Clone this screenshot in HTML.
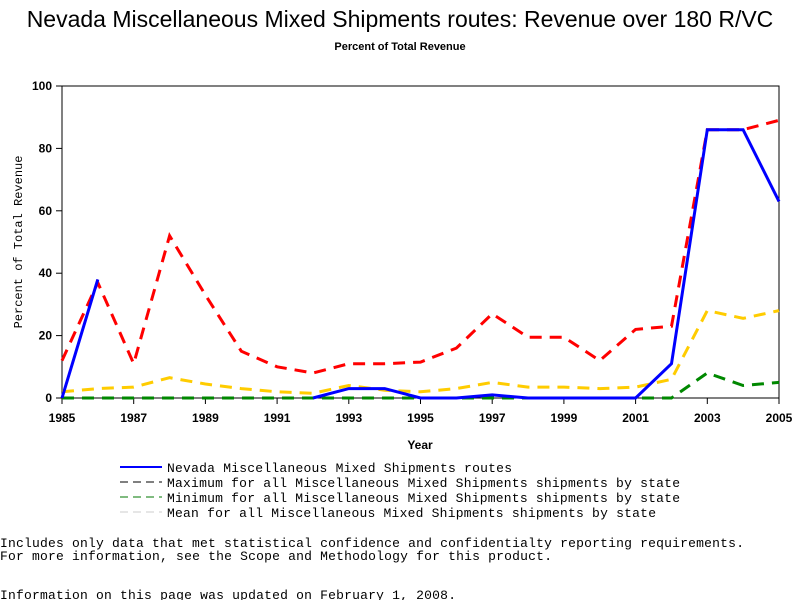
<!DOCTYPE html>
<html><head><meta charset="utf-8"><style>
body{margin:0;background:#fff;width:800px;height:600px;overflow:hidden;font-family:"Liberation Sans",sans-serif}
svg text{font-family:"Liberation Sans",sans-serif}
svg text.m{font-family:"Liberation Mono",monospace}
</style></head><body>
<svg id="c" width="800" height="600">
<text x="400" y="27" font-size="23" text-anchor="middle">Nevada Miscellaneous Mixed Shipments routes: Revenue over 180 R/VC</text>
<text x="400" y="50" font-size="11" font-weight="bold" text-anchor="middle">Percent of Total Revenue</text>
<rect x="62" y="86" width="717" height="312" fill="none" stroke="#000"/>
<g id="axes"></g><g id="series"></g>
<text x="420" y="449" font-size="12" font-weight="bold" text-anchor="middle">Year</text>
<text transform="translate(22,242) rotate(-90)" font-size="12" class="m" text-anchor="middle">Percent of Total Revenue</text>
<g font-size="13">
<line x1="120" y1="467" x2="162" y2="467" stroke="#00f" stroke-width="2"/>
<text x="167" y="472" class="m" textLength="345">Nevada Miscellaneous Mixed Shipments routes</text>
<line x1="120" y1="482" x2="162" y2="482" stroke="#000" stroke-dasharray="8,5"/>
<text x="167" y="487" class="m" textLength="513">Maximum for all Miscellaneous Mixed Shipments shipments by state</text>
<line x1="120" y1="497" x2="162" y2="497" stroke="#070" stroke-dasharray="8,5"/>
<text x="167" y="502" class="m" textLength="513">Minimum for all Miscellaneous Mixed Shipments shipments by state</text>
<line x1="120" y1="512" x2="162" y2="512" stroke="#ccc" stroke-dasharray="8,5"/>
<text x="167" y="517" class="m" textLength="489">Mean for all Miscellaneous Mixed Shipments shipments by state</text>
</g>
<text x="0" y="547" font-size="13" class="m" textLength="744">Includes only data that met statistical confidence and confidentialty reporting requirements.</text>
<text x="0" y="560" font-size="13" class="m" textLength="552">For more information, see the Scope and Methodology for this product.</text>
<text x="0" y="599" font-size="13" class="m" textLength="456">Information on this page was updated on February 1, 2008.</text>
</svg>
<script>
const years=[1985,1986,1987,1988,1989,1990,1991,1992,1993,1994,1995,1996,1997,1998,1999,2000,2001,2002,2003,2004,2005];
const nevada=[0,38,null,null,null,null,null,0,3,3,0,0,1,0,0,0,0,11,86,86,63];
const maxVals=[12,37,11,52,33,15,10,8,11,11,11.5,16,27,19.5,19.5,12,22,23,86,86,89];
const minVals=[0,0,0,0,0,0,0,0,0,0,0,0,0,0,0,0,0,0,8,4,5];
const meanVals=[2,3,3.5,6.5,4.5,3,2,1.5,4,2.5,2,3,5,3.5,3.5,3,3.5,6,28,25.5,28];
const xTicks=[1985,1987,1989,1991,1993,1995,1997,1999,2001,2003,2005];
const yTicks=[0,20,40,60,80,100];
const NS='http://www.w3.org/2000/svg';
const X=v=>62+(v-1985)*(717/20), Y=v=>398-v*3.12;
const ax=document.getElementById('axes'), sg=document.getElementById('series');
function mk(t,a,p){const e=document.createElementNS(NS,t);for(const k in a)e.setAttribute(k,a[k]);p.appendChild(e);return e;}
xTicks.forEach(t=>{mk('line',{x1:X(t),x2:X(t),y1:398,y2:404,stroke:'#000'},ax);
 const e=mk('text',{x:X(t),y:422,'font-size':12,'font-weight':'bold','text-anchor':'middle'},ax);e.textContent=t;
 
 });
yTicks.forEach(t=>{mk('line',{x1:56,x2:62,y1:Y(t),y2:Y(t),stroke:'#000'},ax);
 const e=mk('text',{x:52,y:Y(t)+4,'font-size':12,'font-weight':'bold','text-anchor':'end'},ax);e.textContent=t;
 
 });
function line(vals,color,w,dash,name){let d='',pen=false;
 vals.forEach((v,i)=>{if(v===null){pen=false;return;}d+=(pen?'L':'M')+X(years[i]).toFixed(1)+' '+Y(v).toFixed(1);pen=true;});
 const p=mk('path',{d:d,fill:'none',stroke:color,'stroke-width':w},sg);if(dash)p.setAttribute('stroke-dasharray',dash);
 
 }
line(minVals,'#080',3,'12,8','series-min');
line(meanVals,'#fc0',3,'12,8','series-mean');
line(maxVals,'#f00',3,'12,8','series-max');
line(nevada,'#00f',3,null,'series-nevada');
</script>
</body></html>
